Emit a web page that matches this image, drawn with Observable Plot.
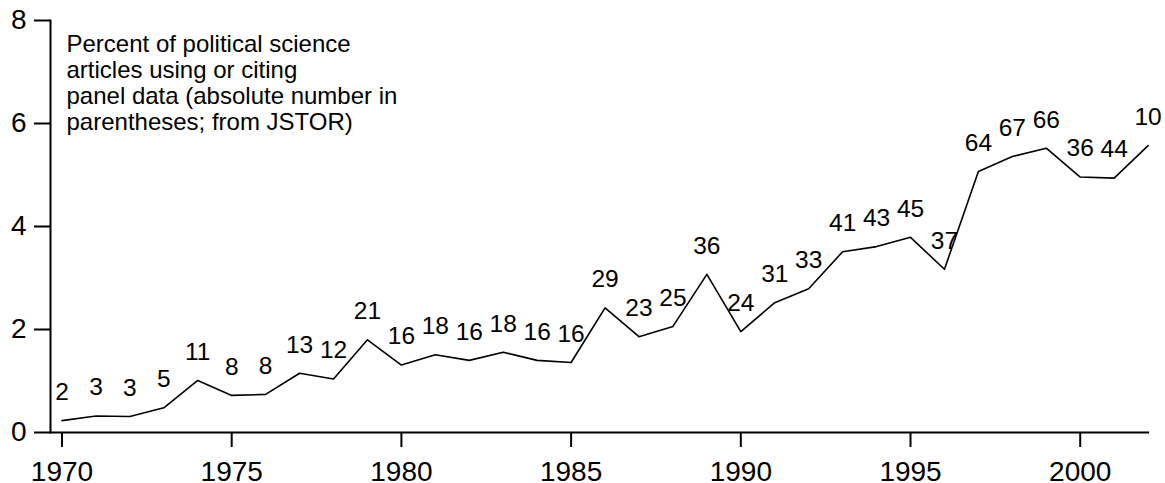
<!DOCTYPE html>
<html>
<head>
<meta charset="utf-8">
<script src="https://cdn.jsdelivr.net/npm/d3@7"></script>
<script src="https://cdn.jsdelivr.net/npm/@observablehq/plot@0.6"></script>
<style>
  html, body { margin: 0; padding: 0; background: #fff; }
  svg { font-family: "Liberation Sans", Arial, sans-serif; }
</style>
</head>
<body>
<div id="chart"></div>
<script>
const years = [1970,1971,1972,1973,1974,1975,1976,1977,1978,1979,1980,1981,1982,1983,1984,1985,1986,1987,1988,1989,1990,1991,1992,1993,1994,1995,1996,1997,1998,1999,2000,2001,2002];
const percent = [0.23,0.32,0.31,0.48,1.01,0.72,0.74,1.15,1.04,1.80,1.31,1.51,1.40,1.56,1.40,1.36,2.42,1.86,2.06,3.07,1.96,2.52,2.79,3.51,3.61,3.79,3.17,5.07,5.36,5.52,4.96,4.94,5.57];
const counts = [2,3,3,5,11,8,8,13,12,21,16,18,16,18,16,16,29,23,25,36,24,31,33,41,43,45,37,64,67,66,36,44,10];
const xTicks = [1970,1975,1980,1985,1990,1995,2000];
const yTicks = [0,2,4,6,8];
const titleText = "Percent of political science\narticles using or citing\npanel data (absolute number in\nparentheses; from JSTOR)";

const data = years.map((y, i) => ({year: y, pct: percent[i], n: counts[i]}));

const chart = Plot.plot({
  width: 1165,
  height: 483,
  marginLeft: 50,
  marginRight: 17.4,
  marginTop: 20,
  marginBottom: 51,
  style: {fontFamily: '"Liberation Sans", Arial, sans-serif', background: "#fff", color: "#000"},
  x: {domain: [1970, 2002], insetLeft: 11.5},
  y: {domain: [0, 8]},
  marks: [
    Plot.frame({anchor: "left", strokeWidth: 2, stroke: "#000"}),
    Plot.frame({anchor: "bottom", strokeWidth: 2, stroke: "#000"}),
    Plot.axisX({ticks: xTicks, tickFormat: d => String(d), tickSize: 15, tickPadding: 14, fontSize: 28, strokeWidth: 2, label: null}),
    Plot.axisY({ticks: yTicks, tickSize: 16, tickPadding: 8, fontSize: 28, strokeWidth: 2, label: null}),
    Plot.line(data, {x: "year", y: "pct", stroke: "#000", strokeWidth: 1.6}),
    Plot.text(data, {x: "year", y: "pct", text: d => String(d.n), dy: -28.5, fontSize: 24.5, fill: "#000"}),
    Plot.text([titleText], {frameAnchor: "top-left", text: d => d, textAnchor: "start", lineAnchor: "top", dx: 16, dy: 13, fontSize: 24, lineHeight: 1.083, fill: "#000"})
  ]
});
document.getElementById("chart").appendChild(chart);
</script>
</body>
</html>
